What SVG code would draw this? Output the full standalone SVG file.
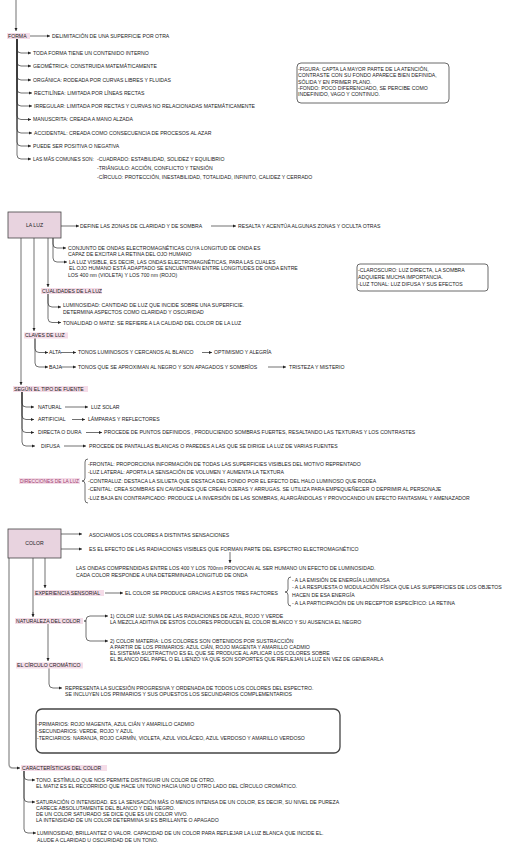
<svg xmlns="http://www.w3.org/2000/svg" width="530" height="848" viewBox="0 0 530 848">
<style>
.t{font-family:"Liberation Sans",Arial,sans-serif;font-size:5.15px;fill:#222}
.tc{text-anchor:middle}
.c{fill:none;stroke:#333;stroke-width:0.7}
.g{fill:none;stroke:#999;stroke-width:1.4}
.hl{fill:#f5dce8}
.box{fill:#e8d3df;stroke:#444;stroke-width:0.8}
.note{fill:#fff;stroke:#444;stroke-width:0.8}
.note2{fill:#fff;stroke:#444;stroke-width:1.3}
.pk{fill:#9b3a6e}
</style>
<defs>
<marker id="a" viewBox="0 0 6 6" refX="6" refY="3" markerWidth="3.2" markerHeight="3.2" markerUnits="userSpaceOnUse" orient="auto"><path d="M0 0L6 3L0 6z" fill="#222"/></marker>
</defs>
<rect width="530" height="848" fill="#fff"/>

<g id="connectors">
<path class="c" d="M16 0V31" marker-end="url(#a)"/>
<path class="c" d="M29 36H50" marker-end="url(#a)"/>
<path class="c" d="M17 39V49Q17 53 21 53H31" marker-end="url(#a)"/>
<path class="c" d="M17 39V62Q17 66 21 66H31" marker-end="url(#a)"/>
<path class="c" d="M17 39V76Q17 80 21 80H31" marker-end="url(#a)"/>
<path class="c" d="M17 39V89Q17 93 21 93H32" marker-end="url(#a)"/>
<path class="c" d="M17 39V102Q17 106 21 106H32" marker-end="url(#a)"/>
<path class="c" d="M17 39V115.5Q17 119.5 21 119.5H31" marker-end="url(#a)"/>
<path class="c" d="M17 39V129Q17 133 21 133H32" marker-end="url(#a)"/>
<path class="c" d="M17 39V142Q17 146 21 146H31" marker-end="url(#a)"/>
<path class="c" d="M17 39V155Q17 159 21 159H31" marker-end="url(#a)"/>

<path class="c" d="M61 226H79" marker-end="url(#a)"/>
<path class="c" d="M211 226H236" marker-end="url(#a)"/>
<path class="c" d="M21 238V385" marker-end="url(#a)"/>
<path class="c" d="M34 238V331" marker-end="url(#a)"/>
<path class="c" d="M48 238V287" marker-end="url(#a)"/>
<path class="c" d="M53 238V244Q53 248 57 248H66" marker-end="url(#a)"/>
<path class="c" d="M53 238V258Q53 262 57 262H67" marker-end="url(#a)"/>
<path class="c" d="M48 294V303Q48 307 52 307H61" marker-end="url(#a)"/>
<path class="c" d="M48 294V318.5Q48 322.5 52 322.5H61" marker-end="url(#a)"/>
<path class="c" d="M35 338V348.5Q35 352.5 39 352.5H48" marker-end="url(#a)"/>
<path class="c" d="M35 338V363Q35 367 39 367H48" marker-end="url(#a)"/>
<path class="c" d="M61 352.5H76" marker-end="url(#a)"/>
<path class="c" d="M202 352.5H212" marker-end="url(#a)"/>
<path class="c" d="M61 367H76" marker-end="url(#a)"/>
<path class="c" d="M268 367H286" marker-end="url(#a)"/>
<path class="c" d="M22 392V403Q22 407 26 407H34" marker-end="url(#a)"/>
<path class="c" d="M22 392V415.5Q22 419.5 26 419.5H34" marker-end="url(#a)"/>
<path class="c" d="M22 392V428.5Q22 432.5 26 432.5H34" marker-end="url(#a)"/>
<path class="c" d="M22 392V442Q22 446 26 446H35" marker-end="url(#a)"/>
<path class="c" d="M65 407H88" marker-end="url(#a)"/>
<path class="c" d="M72 419.5H85" marker-end="url(#a)"/>
<path class="c" d="M86 432.5H102" marker-end="url(#a)"/>
<path class="c" d="M64 446H86" marker-end="url(#a)"/>
<path class="c" d="M88 459Q85 459 85 462V478Q85 481 82 481Q85 481 85 484V500Q85 503 88 503"/>

<path class="c" d="M61 534H82" marker-end="url(#a)"/>
<path class="c" d="M61 549H82" marker-end="url(#a)"/>
<path class="c" d="M230 552V563" marker-end="url(#a)"/>
<path class="g" d="M9 558V764Q9 768 13 768H20" marker-end="url(#a)"/>
<path class="g" d="M33 558V616"/>
<path class="c" d="M33 612V617" marker-end="url(#a)"/>
<path class="c" d="M45 558V588" marker-end="url(#a)"/>
<path class="c" d="M105 593H123" marker-end="url(#a)"/>
<path class="c" d="M291 577Q288 577 288 580V589Q288 592 285 592Q288 592 288 595V603Q288 606 291 606"/>
<path class="c" d="M84 621H86V620Q86 616 90 616H108" marker-end="url(#a)"/>
<path class="c" d="M84 621H86V637Q86 641 90 641H108" marker-end="url(#a)"/>
<path class="c" d="M48 624V661" marker-end="url(#a)"/>
<path class="c" d="M49 668V684Q49 688 53 688H62" marker-end="url(#a)"/>
<path class="c" d="M24 771V776Q24 780 28 780H35" marker-end="url(#a)"/>
<path class="c" d="M24 771V798Q24 802 28 802H35" marker-end="url(#a)"/>
<path class="c" d="M24 771V829Q24 833 28 833H36" marker-end="url(#a)"/>
</g>

<g id="forma">
<rect class="hl" x="7" y="33" width="23" height="6"/>
<text class="t" x="8" y="37.8">FORMA</text>
<text class="t" x="52" y="37.8">DELIMITACIÓN DE UNA SUPERFICIE POR OTRA</text>
<text class="t" x="33" y="54.8">TODA FORMA TIENE UN CONTENIDO INTERNO</text>
<text class="t" x="33" y="67.8">GEOMÉTRICA: CONSTRUIDA MATEMÁTICAMENTE</text>
<text class="t" x="33" y="81.8">ORGÁNICA: RODEADA POR CURVAS LIBRES Y FLUIDAS</text>
<text class="t" x="34" y="94.8">RECTILÍNEA: LIMITADA POR LÍNEAS RECTAS</text>
<text class="t" x="34" y="107.8">IRREGULAR: LIMITADA POR RECTAS Y CURVAS NO RELACIONADAS MATEMÁTICAMENTE</text>
<text class="t" x="33" y="121.3">MANUSCRITA: CREADA A MANO ALZADA</text>
<text class="t" x="34" y="134.8">ACCIDENTAL: CREADA COMO CONSECUENCIA DE PROCESOS AL AZAR</text>
<text class="t" x="33" y="147.8">PUEDE SER POSITIVA O NEGATIVA</text>
<text class="t" x="33" y="160.8" textLength="61" lengthAdjust="spacingAndGlyphs">LAS MÁS COMUNES SON:</text>
<text class="t" x="97" y="160.8">-CUADRADO: ESTABILIDAD, SOLIDEZ Y EQUILIBRIO</text>
<text class="t" x="97" y="169.8">-TRIÁNGULO: ACCIÓN, CONFLICTO Y TENSIÓN</text>
<text class="t" x="97" y="178.8">-CÍRCULO: PROTECCIÓN, INESTABILIDAD, TOTALIDAD, INFINITO, CALIDEZ Y CERRADO</text>
</g>

<g id="figura-fondo">
<rect class="note" x="297" y="63" width="152" height="40" rx="4"/>
<text class="t" x="298" y="70.8">-FIGURA: CAPTA LA MAYOR PARTE DE LA ATENCIÓN,</text>
<text class="t" x="298" y="77.3">CONTRASTE CON SU FONDO APARECE BIEN DEFINIDA,</text>
<text class="t" x="298" y="83.8">SÓLIDA Y EN PRIMER PLANO.</text>
<text class="t" x="298" y="89.8">-FONDO: POCO DIFERENCIADO, SE PERCIBE COMO</text>
<text class="t" x="298" y="96.3">INDEFINIDO, VAGO Y CONTINUO.</text>
</g>

<g id="la-luz">
<rect class="box" x="8" y="212" width="53" height="26"/>
<text class="t tc" x="34.5" y="227.3">LA LUZ</text>
<text class="t" x="80" y="227.8">DEFINE LAS ZONAS DE CLARIDAD Y DE SOMBRA</text>
<text class="t" x="238" y="227.8">RESALTA Y ACENTÚA ALGUNAS ZONAS Y OCULTA OTRAS</text>
<text class="t" x="68" y="249.8">CONJUNTO DE ONDAS ELECTROMAGNÉTICAS CUYA LONGITUD DE ONDA ES</text>
<text class="t" x="68" y="255.8">CAPAZ DE EXCITAR LA RETINA DEL OJO HUMANO</text>
<text class="t" x="69" y="263.8">LA LUZ VISIBLE, ES DECIR, LAS ONDAS ELECTROMAGNÉTICAS, PARA LAS CUALES</text>
<text class="t" x="69" y="270.3">EL OJO HUMANO ESTÁ ADAPTADO SE ENCUENTRAN ENTRE LONGITUDES DE ONDA ENTRE</text>
<text class="t" x="68" y="276.8">LOS 400 nm (VIOLETA) Y LOS 700 nm (ROJO)</text>
</g>

<g id="claroscuro">
<rect class="note" x="357" y="264" width="131" height="27" rx="3"/>
<text class="t" x="358" y="272.3">-CLAROSCURO: LUZ DIRECTA, LA SOMBRA</text>
<text class="t" x="358" y="278.8">ADQUIERE MUCHA IMPORTANCIA.</text>
<text class="t" x="358" y="285.8">-LUZ TONAL: LUZ DIFUSA Y SUS EFECTOS</text>
</g>

<g id="cualidades">
<rect class="hl" x="41" y="288" width="61" height="6"/>
<text class="t" x="42" y="292.8">CUALIDADES DE LA LUZ</text>
<text class="t" x="63" y="307.3">LUMINOSIDAD: CANTIDAD DE LUZ QUE INCIDE SOBRE UNA SUPERFICIE.</text>
<text class="t" x="63" y="313.8">DETERMINA ASPECTOS COMO CLARIDAD Y OSCURIDAD</text>
<text class="t" x="63" y="324.8">TONALIDAD O MATIZ: SE REFIERE A LA CALIDAD DEL COLOR DE LA LUZ</text>
</g>

<g id="claves">
<rect class="hl" x="24" y="332.5" width="44" height="6"/>
<text class="t" x="25" y="337.3">CLAVES DE LUZ</text>
<text class="t" x="49" y="354.3">ALTA</text>
<text class="t" x="78" y="354.3">TONOS LUMINOSOS Y CERCANOS AL BLANCO</text>
<text class="t" x="214" y="354.3">OPTIMISMO Y ALEGRÍA</text>
<text class="t" x="49" y="368.8">BAJA</text>
<text class="t" x="78" y="368.8">TONOS QUE SE APROXIMAN AL NEGRO Y SON APAGADOS Y SOMBRÍOS</text>
<text class="t" x="289" y="368.8">TRISTEZA Y MISTERIO</text>
</g>

<g id="fuente">
<rect class="hl" x="13" y="386" width="75" height="6"/>
<text class="t" x="14" y="390.8">SEGÚN EL TIPO DE FUENTE</text>
<text class="t" x="38" y="408.8">NATURAL</text>
<text class="t" x="91" y="408.8">LUZ SOLAR</text>
<text class="t" x="38" y="421.3">ARTIFICIAL</text>
<text class="t" x="88" y="421.3">LÁMPARAS Y REFLECTORES</text>
<text class="t" x="38" y="434.3">DIRECTA O DURA</text>
<text class="t" x="104" y="434.3">PROCEDE DE PUNTOS DEFINIDOS , PRODUCIENDO SOMBRAS FUERTES, RESALTANDO LAS TEXTURAS Y LOS CONTRASTES</text>
<text class="t" x="41" y="447.8">DIFUSA</text>
<text class="t" x="89" y="447.8">PROCEDE DE PANTALLAS BLANCAS O PAREDES A LAS QUE SE DIRIGE LA LUZ DE VARIAS FUENTES</text>
</g>

<g id="direcciones">
<rect class="hl" x="19" y="478" width="61" height="6"/>
<text class="t pk" x="20" y="482.8" textLength="59" lengthAdjust="spacingAndGlyphs">DIRECCIONES DE LA LUZ</text>
<text class="t" x="88" y="465.8">-FRONTAL: PROPORCIONA INFORMACIÓN DE TODAS LAS SUPERFICIES VISIBLES DEL MOTIVO REPRENTADO</text>
<text class="t" x="88" y="474.3">-LUZ LATERAL: APORTA LA SENSACIÓN DE VOLUMEN Y AUMENTA LA TEXTURA</text>
<text class="t" x="88" y="482.8">-CONTRALUZ: DESTACA LA SILUETA QUE DESTACA DEL FONDO POR EL EFECTO DEL HALO LUMINOSO QUE RODEA</text>
<text class="t" x="88" y="491.3">-CENITAL: CREA SOMBRAS EN CAVIDADES QUE CREAN OJERAS Y ARRUGAS. SE UTILIZA PARA EMPEQUEÑECER O DEPRIMIR AL PERSONAJE</text>
<text class="t" x="88" y="499.8">-LUZ BAJA EN CONTRAPICADO: PRODUCE LA INVERSIÓN DE LAS SOMBRAS, ALARGÁNDOLAS Y PROVOCANDO UN EFECTO FANTASMAL Y AMENAZADOR</text>
</g>

<g id="color">
<rect class="box" x="8" y="529" width="53" height="29"/>
<text class="t tc" x="34.5" y="545.3">COLOR</text>
<text class="t" x="89" y="536.8">ASOCIAMOS LOS COLORES A DISTINTAS SENSACIONES</text>
<text class="t" x="89" y="550.8">ES EL EFECTO DE LAS RADIACIONES VISIBLES QUE FORMAN PARTE DEL ESPECTRO ELECTROMAGNÉTICO</text>
<text class="t" x="76" y="569.8">LAS ONDAS COMPRENDIDAS ENTRE LOS 400 Y LOS 700nm PROVOCAN AL SER HUMANO UN EFECTO DE LUMINOSIDAD.</text>
<text class="t" x="76" y="576.8">CADA COLOR RESPONDE A UNA DETERMINADA LONGITUD DE ONDA</text>
</g>

<g id="experiencia">
<rect class="hl" x="34" y="590" width="70" height="6"/>
<text class="t" x="35" y="594.8">EXPERIENCIA SENSORIAL</text>
<text class="t" x="125" y="594.8">EL COLOR SE PRODUCE GRACIAS A ESTOS TRES FACTORES</text>
<text class="t" x="292" y="581.8">- A LA EMISIÓN DE ENERGÍA LUMINOSA</text>
<text class="t" x="292" y="588.8">- A LA RESPUESTA O MODULACIÓN FÍSICA QUE LAS SUPERFICIES DE LOS OBJETOS</text>
<text class="t" x="292" y="596.8">HACEN DE ESA ENERGÍA</text>
<text class="t" x="292" y="604.8">- A LA PARTICIPACIÓN DE UN RECEPTOR ESPECÍFICO: LA RETINA</text>
</g>

<g id="naturaleza">
<rect class="hl" x="15" y="618" width="68" height="6"/>
<text class="t" x="16" y="622.8">NATURALEZA DEL COLOR</text>
<text class="t" x="110" y="617.8">1) COLOR LUZ: SUMA DE LAS RADIACIONES DE AZUL, ROJO Y VERDE</text>
<text class="t" x="110" y="623.8">LA MEZCLA ADITIVA DE ESTOS COLORES PRODUCEN EL COLOR BLANCO Y SU AUSENCIA EL NEGRO</text>
<text class="t" x="110" y="642.8">2) COLOR MATERIA: LOS COLORES SON OBTENIDOS POR SUSTRACCIÓN</text>
<text class="t" x="110" y="648.8">A PARTIR DE LOS PRIMARIOS: AZUL CIÁN, ROJO MAGENTA Y AMARILLO CADMIO</text>
<text class="t" x="110" y="654.8">EL SISTEMA SUSTRACTIVO ES EL QUE SE PRODUCE AL APLICAR LOS COLORES SOBRE</text>
<text class="t" x="110" y="660.8">EL BLANCO DEL PAPEL O EL LIENZO YA QUE SON SOPORTES QUE REFLEJAN LA LUZ EN VEZ DE GENERARLA</text>
</g>

<g id="circulo">
<rect class="hl" x="16" y="662.5" width="67" height="6"/>
<text class="t" x="17" y="667.3">EL CÍRCULO CROMÁTICO</text>
<text class="t" x="65" y="689.8">REPRESENTA LA SUCESIÓN PROGRESIVA Y ORDENADA DE TODOS LOS COLORES DEL ESPECTRO.</text>
<text class="t" x="65" y="695.8">SE INCLUYEN LOS PRIMARIOS Y SUS OPUESTOS LOS SECUNDARIOS COMPLEMENTARIOS</text>
</g>

<g id="tipos-colores">
<rect class="note2" x="36" y="709" width="304" height="44" rx="6"/>
<text class="t" x="37" y="725.8">-PRIMARIOS: ROJO MAGENTA, AZUL CIÁN Y AMARILLO CADMIO</text>
<text class="t" x="37" y="732.8">-SECUNDARIOS: VERDE, ROJO Y AZUL</text>
<text class="t" x="37" y="739.8">-TERCIARIOS: NARANJA, ROJO CARMÍN, VIOLETA, AZUL VIOLÁCEO, AZUL VERDOSO Y AMARILLO VERDOSO</text>
</g>

<g id="caracteristicas">
<rect class="hl" x="21" y="765" width="86" height="6"/>
<text class="t" x="22" y="769.8">CARACTERÍSTICAS DEL COLOR</text>
<text class="t" x="36" y="781.8">TONO. ESTÍMULO QUE NOS PERMITE DISTINGUIR UN COLOR DE OTRO.</text>
<text class="t" x="36" y="788.3">EL MATIZ ES EL RECORRIDO QUE HACE UN TONO HACIA UNO U OTRO LADO DEL CÍRCULO CROMÁTICO.</text>
<text class="t" x="36" y="803.8">SATURACIÓN O INTENSIDAD. ES LA SENSACIÓN MÁS O MENOS INTENSA DE UN COLOR, ES DECIR, SU NIVEL DE PUREZA</text>
<text class="t" x="36" y="810.3">CARECE ABSOLUTAMENTE DEL BLANCO Y DEL NEGRO.</text>
<text class="t" x="36" y="816.3">DE UN COLOR SATURADO SE DICE QUE ES UN COLOR VIVO.</text>
<text class="t" x="36" y="822.3">LA INTENSIDAD DE UN COLOR DETERMINA SI ES BRILLANTE O APAGADO</text>
<text class="t" x="37" y="834.8">LUMINOSIDAD, BRILLANTEZ O VALOR. CAPACIDAD DE UN COLOR PARA REFLEJAR LA LUZ BLANCA QUE INCIDE EL.</text>
<text class="t" x="37" y="841.8">ALUDE A CLARIDAD U OSCURIDAD DE UN TONO.</text>
</g>
</svg>
